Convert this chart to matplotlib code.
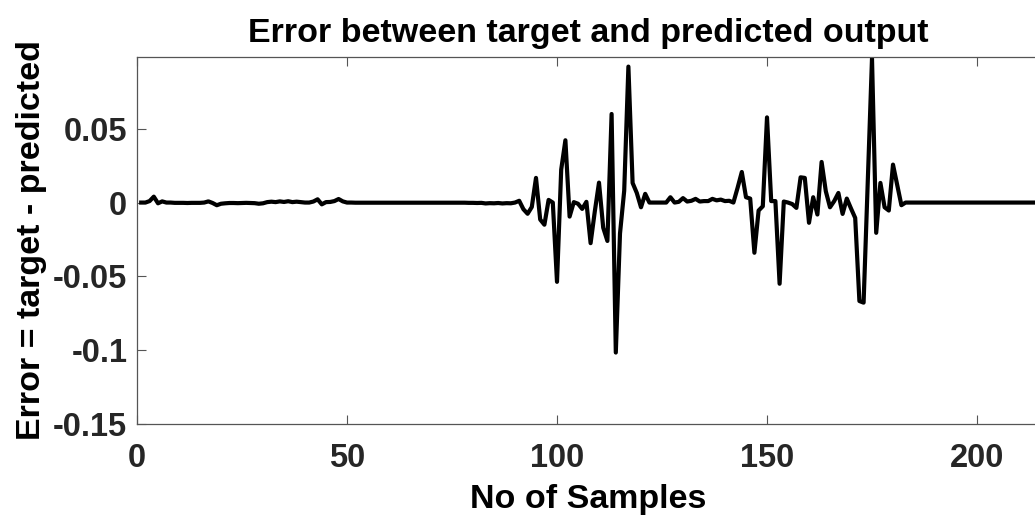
import numpy as np
import matplotlib
matplotlib.use("Agg")
import matplotlib.pyplot as plt

# ==============================
# Data
# ==============================

error_values = [
    0.0, 0.0, 0.001, 0.004, -0.0005, 0.0008, 0.0, 0.0, -0.0002, -0.0002,
    -0.0002, -0.0003, -0.0002, -0.0002, -0.0002, 0.0, 0.0008, -0.0003, -0.0018, -0.0008,
    -0.0005, -0.0003, -0.0003, -0.0004, -0.0003, -0.0002, -0.0003, -0.0004, -0.0008, -0.0005,
    0.0003, 0.0006, 0.0003, 0.0008, 0.0004, 0.0009, 0.0003, 0.0006, 0.0003, 0.0,
    0.0, 0.0007, 0.0022, -0.0012, 0.0003, 0.0004, 0.0010, 0.0024, 0.0008, 0.0,
    0.0, -0.0001, -0.0001, -0.0001, -0.0001, -0.0001, -0.0001, -0.0001, -0.0001, -0.0001,
    -0.0001, -0.0001, -0.0001, -0.0001, -0.0001, -0.0001, -0.0001, -0.0001, -0.0001, -0.0001,
    -0.0001, -0.0001, -0.0001, -0.0001, -0.0001, -0.0001, -0.0001, -0.0001, -0.0002, -0.0002,
    -0.0003, -0.0002, -0.0006, -0.0004, -0.0005, -0.0003, -0.0006, -0.0004, -0.0005, 0.0,
    0.0012, -0.0045, -0.0076, -0.003, 0.0167, -0.0115, -0.015, 0.0018, 0.0, -0.0537,
    0.0223, 0.0422, -0.0095, 0.0003, -0.0008, -0.0043, 0.0005, -0.0275, -0.006, 0.0135,
    -0.017, -0.026, 0.060, -0.1016, -0.021, 0.008, 0.0921, 0.0133, 0.0065, -0.0032,
    0.0059, 0.0, 0.0, 0.0, 0.0, 0.0, 0.0036, 0.0, 0.0005, 0.003,
    0.0007, 0.0012, 0.0025, 0.0007, 0.001, 0.001, 0.0025, 0.0015, 0.002, 0.001,
    0.0012, 0.0, 0.010, 0.0207, 0.0036, 0.0027, -0.034, -0.0054, -0.0025, 0.0577,
    0.001, 0.001, -0.055, 0.0007, 0.0, -0.001, -0.0036, 0.0171, 0.0167, -0.0137,
    0.0036, -0.0081, 0.0275, 0.0077, -0.0032, 0.001, 0.0065, -0.0077, 0.0027, -0.004,
    -0.0104, -0.0667, -0.0678, 0.015, 0.0977, -0.0205, 0.0133, -0.0032, -0.0054, 0.0257,
    0.012, -0.0018, 0.0, 0.0, 0.0, 0.0, 0.0, 0.0, 0.0, 0.0,
    0.0, 0.0, 0.0, 0.0, 0.0, 0.0, 0.0, 0.0, 0.0, 0.0,
    0.0, 0.0, 0.0, 0.0, 0.0, 0.0, 0.0, 0.0, 0.0, 0.0,
    0.0, 0.0, 0.0, 0.0,
]
samples = np.arange(1, len(error_values) + 1)

x_ticks = [0, 50, 100, 150, 200]
y_ticks = [-0.15, -0.1, -0.05, 0, 0.05]
y_tick_labels = ["-0.15", "-0.1", "-0.05", "0", "0.05"]

# ==============================
# Plot
# ==============================

plt.rcParams["font.family"] = ["Liberation Sans", "DejaVu Sans"]
plt.rcParams["font.weight"] = "bold"

fig = plt.figure(figsize=(10.35, 5.16), dpi=100)
ax = fig.add_axes([137 / 1035, 92 / 516, 903 / 1035, 367 / 516])

ax.plot(samples, error_values, color="black", linewidth=3.0)

ax.set_xlim(0, 215)
ax.set_ylim(-0.15, 0.0986)
ax.set_xticks(x_ticks)
ax.set_yticks(y_ticks)
ax.set_yticklabels(y_tick_labels)

ax.tick_params(direction="in", length=6.5, width=0.8, color="#555555",
               labelsize=23.5, labelcolor="#262626", top=True, right=False)
ax.tick_params(axis="x", pad=14)
ax.tick_params(axis="y", pad=7)
for s in ax.spines.values():
    s.set_color("#555555")
    s.set_linewidth(0.9)

ax.set_xlabel("No of Samples", fontsize=24.5, fontweight="bold", labelpad=7)
ax.set_ylabel("Error = target - predicted", fontsize=24.5, fontweight="bold", labelpad=4)
ax.set_title("Error between target and predicted output", fontsize=24.5, fontweight="bold", pad=11)

fig.savefig("out.png", dpi=100)
